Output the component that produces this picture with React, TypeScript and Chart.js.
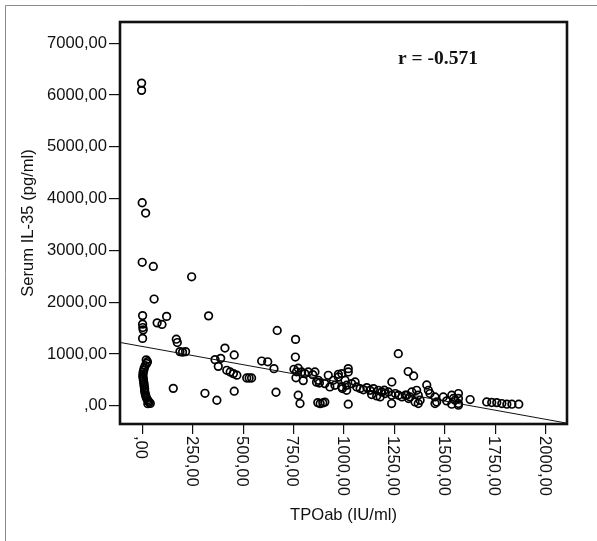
import { useEffect, useRef } from "react";
import { Chart, registerables } from "chart.js";

Chart.register(...registerables);

// TPOab (IU/ml) values of each patient
const tpoab = [
  -3, -3, 0, 17, 0, 55, 245, 59, 2, 2, 3, 5, 2, 74, 98, 121, 329, 169, 174, 187, 200, 215,
  20, 26, 22, 15, 10, 8, 5, 4, 3, 5, 6, 8, 9, 10, 12, 12, 14, 16, 19, 22, 27, 31, 35, 40, 28,
  154, 311, 370, 456,
  410, 456, 361, 389, 377, 419, 436, 452, 469, 518, 530, 542,
  592, 622, 653, 669, 663, 760, 759, 752, 773, 765, 790, 806, 823, 845, 762, 798, 864, 773, 782,
  870, 882, 895, 905, 856, 873, 878, 905, 922, 947, 972, 972, 989, 1021, 1021, 1005, 989, 1013, 1021,
  930, 955, 992, 1013, 1038, 1055, 1063, 1080, 1096, 1113, 1129, 1146, 1170, 1187, 1204, 1220, 1237,
  1254, 1270, 1287, 1304, 1320, 1237, 1236, 1137, 1162, 1179, 1200,
  1269, 1318, 1345, 1336, 1360, 1311, 1327, 1368, 1377, 1352, 1368, 1410, 1418, 1426, 1451, 1459,
  1492, 1509, 1534, 1550, 1567, 1567, 1567, 1625, 1567, 1534, 1451, 1542,
  1707, 1732, 1757, 1782, 1807, 1832, 1866,
];

// Serum IL-35 (pg/ml) values of each patient
const il35 = [
  6230, 6090, 3920, 3720, 2770, 2690, 2490, 2060, 1740, 1575, 1510, 1465, 1300, 1600, 1570, 1725, 1735, 1285, 1220, 1045, 1035, 1045,
  885, 850, 815, 775, 730, 690, 650, 610, 570, 530, 490, 450, 410, 370, 330, 290, 250, 210, 175, 140, 110, 85, 62, 45, 40,
  335, 240, 106, 280,
  1113, 980, 890, 915, 760, 684, 651, 620, 590, 535, 535, 535,
  863, 848, 716, 1454, 260, 1281, 940, 703, 725, 655, 651, 620, 651, 600, 540, 485, 455, 202, 42,
  60, 40, 55, 70, 651, 491, 439, 427, 587, 491, 555, 607, 620, 716, 651, 491, 362, 298, 29,
  362, 395, 331, 395, 427, 458, 362, 331, 308, 350, 298, 331, 298, 266, 235, 266, 202,
  235, 202, 170, 202, 139, 458, 42, 215, 189, 170, 300,
  1005, 660, 575, 266, 298, 202, 170, 202, 106, 73, 42, 400, 298, 235, 170, 73,
  170, 93, 202, 106, 235, 139, 42, 119, 10, 29, 42, 139,
  73, 62, 60, 42, 29, 29, 29,
];

// regression line end points (x, y)
const fitX = [-110, 2105];
const fitY = [1222, -337];

const xTicks = [0, 250, 500, 750, 1000, 1250, 1500, 1750, 2000];
const xTickLabels = [",00", "250,00", "500,00", "750,00", "1000,00", "1250,00", "1500,00", "1750,00", "2000,00"];
const yTicks = [0, 1000, 2000, 3000, 4000, 5000, 6000, 7000];
const yTickLabels = [",00", "1000,00", "2000,00", "3000,00", "4000,00", "5000,00", "6000,00", "7000,00"];

const xTitle = "TPOab (IU/ml)";
const yTitle = "Serum IL-35 (pg/ml)";
const annotation = "r = -0.571";

const SANS = '"Liberation Sans", Arial, sans-serif';

const framePlugin = {
  id: "frame",
  beforeDraw(chart: any) {
    const ctx = chart.ctx;
    const w = chart.width;
    const h = chart.height;
    ctx.save();
    ctx.fillStyle = "#ffffff";
    ctx.fillRect(0, 0, w, h);
    ctx.strokeStyle = "#8c8c8c";
    ctx.lineWidth = 1;
    ctx.beginPath();
    ctx.moveTo(5.5, h);
    ctx.lineTo(5.5, 5.5);
    ctx.lineTo(w, 5.5);
    ctx.stroke();
    ctx.restore();
  },
  afterDraw(chart: any) {
    const ctx = chart.ctx;
    const { left, top, right, bottom } = chart.chartArea;
    ctx.save();
    ctx.strokeStyle = "#111111";
    ctx.lineWidth = 2.6;
    ctx.strokeRect(left, top, right - left, bottom - top);

    const xs = chart.scales.x;
    ctx.fillStyle = "#111111";
    ctx.font = "16.6px " + SANS;
    xTicks.forEach((v, i) => {
      const px = xs.getPixelForValue(v);
      ctx.save();
      ctx.translate(px - 1.5, bottom + 12);
      ctx.rotate(Math.PI / 2);
      ctx.textAlign = "left";
      ctx.textBaseline = "middle";
      ctx.fillText(xTickLabels[i], 0, 0);
      ctx.restore();
    });

    ctx.font = 'bold 19.5px "Liberation Serif", "Times New Roman", serif';
    ctx.textAlign = "left";
    ctx.textBaseline = "alphabetic";
    ctx.fillStyle = "#111111";
    ctx.fillText(annotation, 398, 64);
    ctx.restore();
  },
};

export default function App() {
  const ref = useRef<HTMLCanvasElement | null>(null);

  useEffect(() => {
    if (!ref.current) return;
    const points = tpoab.map((x, i) => ({ x, y: il35[i] }));
    const fit = fitX.map((x, i) => ({ x, y: fitY[i] }));
    const chart = new Chart(ref.current, {
      type: "scatter",
      data: {
        datasets: [
          {
            type: "line",
            data: fit,
            borderColor: "#111111",
            borderWidth: 1,
            pointRadius: 0,
            fill: false,
          } as any,
          {
            type: "scatter",
            data: points,
            pointStyle: "circle",
            pointRadius: 3.8,
            pointBorderWidth: 1.7,
            pointBorderColor: "#000000",
            pointBackgroundColor: "rgba(0,0,0,0)",
            pointHoverRadius: 3.8,
          } as any,
        ],
      },
      options: {
        responsive: false,
        animation: false,
        events: [],
        layout: { padding: { left: 0, top: 22, right: 30, bottom: 0 } },
        plugins: { legend: { display: false }, tooltip: { enabled: false } },
        scales: {
          x: {
            type: "linear",
            min: -110,
            max: 2105,
            afterBuildTicks: (s: any) => {
              s.ticks = xTicks.map((v) => ({ value: v }));
            },
            afterFit: (s: any) => {
              s.height = 117;
            },
            ticks: { display: false },
            grid: {
              drawOnChartArea: false,
              drawTicks: true,
              tickLength: 10,
              color: "#111111",
              lineWidth: 1.2,
            },
            border: { display: false },
            title: {
              display: true,
              text: xTitle,
              color: "#111111",
              font: { family: SANS, size: 16.6 },
              padding: { top: 0, bottom: 16 },
            },
          },
          y: {
            type: "linear",
            min: -353,
            max: 7410,
            afterBuildTicks: (s: any) => {
              s.ticks = yTicks.map((v) => ({ value: v }));
            },
            afterFit: (s: any) => {
              s.width = 120;
            },
            ticks: {
              color: "#111111",
              font: { family: SANS, size: 16.6 },
              padding: 2,
              callback: (v: any) => {
                const i = yTicks.indexOf(Number(v));
                return i >= 0 ? yTickLabels[i] : "";
              },
            },
            grid: {
              drawOnChartArea: false,
              drawTicks: true,
              tickLength: 11,
              color: "#111111",
              lineWidth: 1.2,
            },
            border: { display: false },
            title: {
              display: true,
              text: yTitle,
              color: "#111111",
              font: { family: SANS, size: 16.6 },
              padding: { top: 18, bottom: 0 },
            },
          },
        },
      },
      plugins: [framePlugin],
    });
    return () => chart.destroy();
  }, []);

  return (
    <div style={{ position: "fixed", left: 0, top: 0, width: 597, height: 541, background: "#fff" }}>
      <canvas ref={ref} width={597} height={541} style={{ display: "block" }} />
    </div>
  );
}
